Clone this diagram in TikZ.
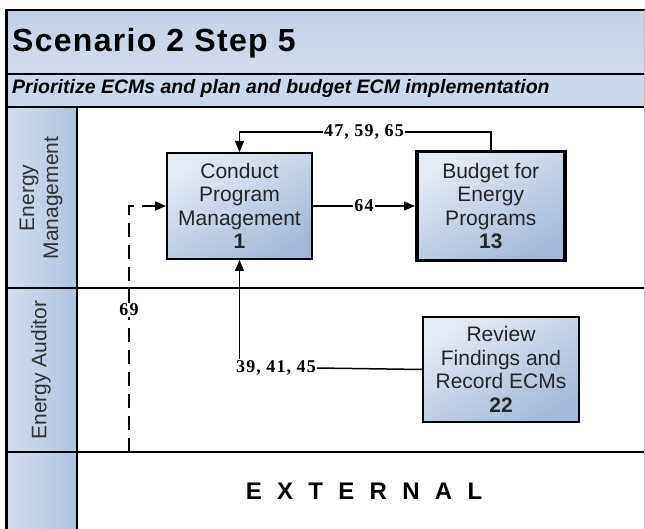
\documentclass[tikz,border=0pt]{standalone}
\usepackage{fontspec}
\setmainfont{Liberation Sans}
\newfontfamily\numfont[LetterSpace=6]{Liberation Serif}
\newfontfamily\widesans[LetterSpace=36]{Liberation Sans}
\usetikzlibrary{positioning, arrows.meta}
\definecolor{bandblue}{HTML}{C4D1E6}
\definecolor{subblue}{HTML}{CBD7EA}
\definecolor{laneblue}{HTML}{B0C3DD}
\definecolor{lanelight}{HTML}{D3DEEE}
\definecolor{boxtop}{HTML}{E4EAF4}
\definecolor{boxbot}{HTML}{A5B9D6}

\begin{document}
\begin{tikzpicture}[x=1pt, y=-1pt, node distance=102pt and 57pt,
  procbox/.style={draw, line width=2pt, top color=boxtop, bottom color=boxbot, shading angle=30, align=center, text=black!85, font=\fontsize{21}{23.5}\selectfont, inner sep=0pt},
  lanetext/.style={rotate=90, align=center, text=black!80, font=\fontsize{21}{24}\selectfont},
  lbl/.style={fill=white, inner sep=1pt, font=\numfont\bfseries\fontsize{18}{18}\selectfont},
  wire/.style={line width=1.5pt},
  flow/.style={wire, -{Triangle[length=11pt, width=9pt]}},
  dflow/.style={flow, dash pattern=on 14pt off 8pt}]
      \useasboundingbox (0,0) rectangle (645,529); \fill[white] (0,0) rectangle (645,529);

      \shade[top color=bandblue, bottom color=bandblue!75!white] (5,10) rectangle (645,74);
      \fill[subblue] (5,74) rectangle (645,107);
      \shade[left color=lanelight, right color=laneblue] (5,107) rectangle (77,529);
      \draw[line width=2pt] (5,10.5) -- (645,10.5); \draw[line width=1.5pt] (5,74) -- (645,74);
      \draw[line width=2pt] (5,107.5) -- (645,107.5); \draw[line width=2pt] (5,288) -- (645,288);
      \draw[line width=2pt] (5,452) -- (645,452); \draw[line width=2pt] (77,107) -- (77,529);
      \draw[line width=3pt] (6.5,9.5) -- (6.5,529); \draw[gray!50, line width=0.8pt] (644,10) -- (644,529);

      \node[anchor=base west, inner sep=0pt, font=\bfseries\fontsize{32}{32}\selectfont\addfontfeature{LetterSpace=4}] (title) at (12,52) {Scenario 2 Step 5};
      \node[anchor=base west, inner sep=0pt, font=\bfseries\itshape\fontsize{19.5}{20}\selectfont] (subtitle) at (12,94) {Prioritize ECMs and plan and budget ECM implementation};
      \node[lanetext] (emlane) at (41,198) {Energy\\Management};
      \node[lanetext] (ealane) at (41,370) {Energy Auditor};
      \node[anchor=base, inner sep=0pt, font=\widesans\bfseries\fontsize{24}{24}\selectfont] (external) at (364,499) {E X T E R N A L};

      \node[procbox, minimum width=145pt, minimum height=106pt] (conduct) at (239.5,206) {Conduct\\Program\\Management\\\textbf{1}};
      \node[procbox, line width=3.5pt, minimum width=148pt, minimum height=109pt, right=102pt of conduct] (budget) {Budget for\\Energy\\Programs\\\textbf{13}};
      \node[procbox, line width=2.5pt, minimum width=156pt, minimum height=105pt] (review) at (501,369.5) {Review\\Findings and\\Record ECMs\\\textbf{22}};

      \node[lbl] (l475965) at (364,132) {47, 59, 65};
      \draw[wire] (budget.north) |- (l475965.east); \draw[flow] (l475965.west) -| (conduct.north);
      \draw[flow] (conduct.east) -- node[lbl] (l64) {64} (budget.west);
      \node[lbl] (l394145) at (276,368) {39, 41, 45};
      \draw[wire] (review.west) -- (l394145.east); \draw[flow] (l394145.north -| conduct.south) -- (conduct.south);
      \node[lbl] (l69) at (129,310) {69}; \coordinate (ext69) at (129,452);
      \draw[dflow, -] (ext69) -- (l69.south); \draw[dflow] (l69.north) |- (conduct.west);
    \end{tikzpicture}
\end{document}
